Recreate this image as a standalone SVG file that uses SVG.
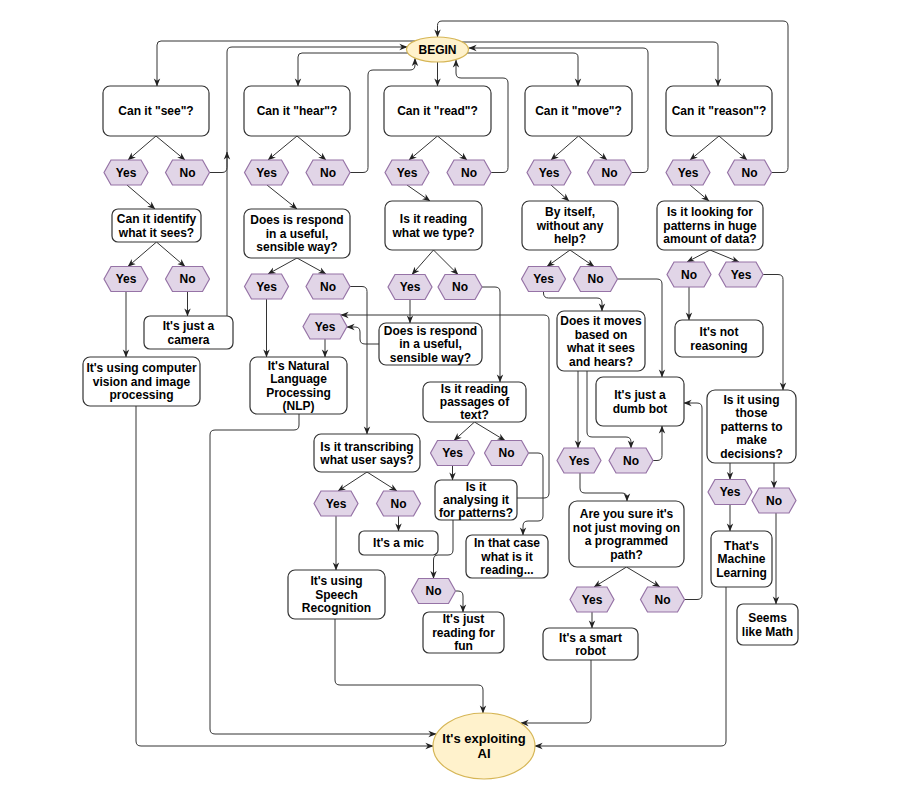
<svg xmlns="http://www.w3.org/2000/svg" width="900" height="800" viewBox="0 0 900 800">
<style>
.box{fill:#fff;stroke:#333;stroke-width:1.2}
.hex{fill:#e1d5e7;stroke:#9673a6;stroke-width:1.2}
.ell{fill:#fff2cc;stroke:#d6b656;stroke-width:1.2}
.t{font-family:"Liberation Sans",Arial,sans-serif;font-weight:bold;font-size:12px;fill:#000;text-anchor:middle}
.ta{font-size:13px}
.c path{fill:none;stroke:#333;stroke-width:1;marker-end:url(#a)}
</style>
<defs>
<marker id="a" viewBox="0 0 10 10" refX="9.5" refY="5" markerWidth="8" markerHeight="8" markerUnits="userSpaceOnUse" orient="auto"><path d="M0,1 L10,5 L0,9 L3,5 z" fill="#222"/></marker>
</defs>
<rect width="900" height="800" fill="#fff"/>

<g class="c" id="connectors">
<path d="M415,41 H161 Q157,41 157,45 V86"/>
<path d="M209.5,172.5 H222 Q227,172.5 227,167.5 V52 Q227,47 232,47 H407"/>
<path d="M227,316 V152"/>
<path d="M408,53 H302 Q298,53 298,57 V86"/>
<path d="M350,172.5 H363 Q368,172.5 368,167.5 V75 Q368,70 373,70 H410 Q415,70 415,65 V58.5"/>
<path d="M437.5,62 V86"/>
<path d="M491,172.5 H503 Q508,172.5 508,167.5 V83 Q508,78 503,78 H461 Q456,78 456,73 V60"/>
<path d="M467,53 H573 Q578,53 578,57 V86"/>
<path d="M631.5,172.5 H643 Q648,172.5 648,167.5 V53 Q648,48 643,48 H469"/>
<path d="M462,42 H713 Q718,42 718,46 V86"/>
<path d="M771.5,172.5 H783 Q788,172.5 788,167.5 V26 Q788,21 783,21 H442 Q437.5,21 437.5,25.5 V37"/>

<path d="M156,136 L128,160"/>
<path d="M156,136 L185,160"/>
<path d="M297,136 L268,160"/>
<path d="M297,136 L326,160"/>
<path d="M437.5,136 L409,160"/>
<path d="M437.5,136 L467,160"/>
<path d="M578.5,136 L551,160"/>
<path d="M578.5,136 L607,160"/>
<path d="M719,136 L690,160"/>
<path d="M719,136 L747,160"/>

<path d="M127,185 L155,209"/>
<path d="M267,185 L297,209"/>
<path d="M407,185 L430,201"/>
<path d="M551,185 L569,201"/>
<path d="M690,185 L709,201"/>

<path d="M156.5,242 L128,266.5"/>
<path d="M156.5,242 L185,266.5"/>
<path d="M297,258 L268,274"/>
<path d="M297,258 L326,274"/>
<path d="M433.5,250 L412,274.5"/>
<path d="M433.5,250 L458,274.5"/>
<path d="M570,250 L547,266.5"/>
<path d="M570,250 L594,266.5"/>
<path d="M710,250 L687,262"/>
<path d="M710,250 L739,262"/>

<path d="M126,291.5 V357"/>
<path d="M187.5,291.5 V316"/>
<path d="M266.5,299 V357"/>
<path d="M325,339 V357"/>
<path d="M350,286.5 H362 Q367,286.5 367,291.5 V434"/>
<path d="M410,299.5 V323"/>
<path d="M482,287 H495 Q500,287 500,292 V382"/>
<path d="M379,344 H365 Q360,344 360,339 V332 Q360,327 355,327 H347"/>
<path d="M517,498 H544 Q549,498 549,493 V320 Q549,315 544,315 H341"/>
<path d="M474.5,422 L454,440.5"/>
<path d="M474.5,422 L505,440.5"/>
<path d="M452.5,465.5 V480"/>
<path d="M528.5,453 H538 Q543,453 543,458 V516 Q543,521 538,521 H528 Q523,521 523,526 V535"/>
<path d="M453,520 V550 Q453,555 448,555 H438 Q433.5,555 433.5,560 V578.5"/>
<path d="M455.5,591 H458 Q463,591 463,596 V612"/>
<path d="M367,472 L338,491"/>
<path d="M367,472 L397,491"/>
<path d="M398.5,516 V531"/>
<path d="M336,516 V570"/>
<path d="M335,619 V680 Q335,685 340,685 H478 Q483,685 483,690 V713"/>
<path d="M543.5,291.5 V293 Q543.5,298 548.5,298 H597 Q602,298 602,303 V311"/>
<path d="M617.5,279 H657 Q662,279 662,284 V377"/>
<path d="M578,371 V448"/>
<path d="M587,371 V432 Q587,437 592,437 H626 Q631,437 631,442 V448"/>
<path d="M653,460.5 H657 Q662,460.5 662,455.5 V426"/>
<path d="M580,473 V488 Q580,493 585,493 H622 Q627,493 627,498 V501"/>
<path d="M626.5,567 L594,587"/>
<path d="M626.5,567 L660,587"/>
<path d="M684.5,599.5 H697 Q702,599.5 702,594.5 V408 Q702,403 697,403 H684"/>
<path d="M592,612 V628"/>
<path d="M591,660 V718 Q591,723 586,723 H521"/>
<path d="M689,287 V320"/>
<path d="M763,274.5 H778 Q783,274.5 783,279.5 V390"/>
<path d="M730,463 V479.5"/>
<path d="M774,463 V488"/>
<path d="M730,504.5 V531"/>
<path d="M776,513 V604"/>
<path d="M726,587 V741 Q726,746 721,746 H535"/>
<path d="M136,406 V741 Q136,746 141,746 H433"/>
<path d="M299,414 V425 Q299,430 294,430 H215 Q210,430 210,435 V729 Q210,734 215,734 H436"/>
</g>

<g id="begin"><ellipse class="ell" cx="437.5" cy="49.5" rx="31" ry="12.5"/><text class="t" x="437.5" y="53.8">BEGIN</text></g>

<g id="see"><rect class="box" x="103" y="86" width="106" height="50" rx="7"/><text class="t" x="156" y="115.3">Can it "see"?</text></g>
<g id="hear"><rect class="box" x="244" y="86" width="106" height="50" rx="7"/><text class="t" x="297" y="115.3">Can it "hear"?</text></g>
<g id="read"><rect class="box" x="384" y="86" width="107" height="50" rx="7"/><text class="t" x="437.5" y="115.3">Can it "read"?</text></g>
<g id="move"><rect class="box" x="525" y="86" width="107" height="50" rx="7"/><text class="t" x="578.5" y="115.3">Can it "move"?</text></g>
<g id="reason"><rect class="box" x="666" y="86" width="106" height="50" rx="7"/><text class="t" x="719" y="115.3">Can it "reason"?</text></g>

<g id="seeYes"><polygon class="hex" points="104,172.5 111,160 141,160 148,172.5 141,185 111,185"/><text class="t" x="126" y="176.8">Yes</text></g>
<g id="seeNo"><polygon class="hex" points="165.5,172.5 172.5,160 202.5,160 209.5,172.5 202.5,185 172.5,185"/><text class="t" x="187.5" y="176.8">No</text></g>
<g id="hearYes"><polygon class="hex" points="244.5,172.5 251.5,160 281.5,160 288.5,172.5 281.5,185 251.5,185"/><text class="t" x="266.5" y="176.8">Yes</text></g>
<g id="hearNo"><polygon class="hex" points="306,172.5 313,160 343,160 350,172.5 343,185 313,185"/><text class="t" x="328" y="176.8">No</text></g>
<g id="readYes"><polygon class="hex" points="385,172.5 392,160 422,160 429,172.5 422,185 392,185"/><text class="t" x="407" y="176.8">Yes</text></g>
<g id="readNo"><polygon class="hex" points="447,172.5 454,160 484,160 491,172.5 484,185 454,185"/><text class="t" x="469" y="176.8">No</text></g>
<g id="moveYes"><polygon class="hex" points="527,172.5 534,160 564,160 571,172.5 564,185 534,185"/><text class="t" x="549" y="176.8">Yes</text></g>
<g id="moveNo"><polygon class="hex" points="587.5,172.5 594.5,160 624.5,160 631.5,172.5 624.5,185 594.5,185"/><text class="t" x="609.5" y="176.8">No</text></g>
<g id="reasonYes"><polygon class="hex" points="666,172.5 673,160 703,160 710,172.5 703,185 673,185"/><text class="t" x="688" y="176.8">Yes</text></g>
<g id="reasonNo"><polygon class="hex" points="727.5,172.5 734.5,160 764.5,160 771.5,172.5 764.5,185 734.5,185"/><text class="t" x="749.5" y="176.8">No</text></g>

<g id="identify"><rect class="box" x="112" y="209" width="89" height="33" rx="6"/><text class="t" x="156.5" y="223"><tspan x="156.5">Can it identify</tspan><tspan x="156.5" dy="13.5">what it sees?</tspan></text></g>
<g id="hearRespond"><rect class="box" x="244" y="209" width="106" height="49" rx="7"/><text class="t" x="297" y="224.3"><tspan x="297">Does is respond</tspan><tspan x="297" dy="13.5">in a useful,</tspan><tspan x="297" dy="13.5">sensible way?</tspan></text></g>
<g id="readType"><rect class="box" x="385" y="201" width="97" height="49" rx="7"/><text class="t" x="433.5" y="223"><tspan x="433.5">Is it reading</tspan><tspan x="433.5" dy="13.5">what we type?</tspan></text></g>
<g id="byItself"><rect class="box" x="522" y="201" width="96" height="49" rx="7"/><text class="t" x="570" y="216.3"><tspan x="570">By itself,</tspan><tspan x="570" dy="13.5">without any</tspan><tspan x="570" dy="13.5">help?</tspan></text></g>
<g id="patterns"><rect class="box" x="657" y="201" width="106" height="49" rx="7"/><text class="t" x="710" y="216.3"><tspan x="710">Is it looking for</tspan><tspan x="710" dy="13.5">patterns in huge</tspan><tspan x="710" dy="13.5">amount of data?</tspan></text></g>

<g id="identYes"><polygon class="hex" points="104,279 111,266.5 141,266.5 148,279 141,291.5 111,291.5"/><text class="t" x="126" y="283.3">Yes</text></g>
<g id="identNo"><polygon class="hex" points="165.5,279 172.5,266.5 202.5,266.5 209.5,279 202.5,291.5 172.5,291.5"/><text class="t" x="187.5" y="283.3">No</text></g>
<g id="camera"><rect class="box" x="144" y="316" width="89" height="33" rx="6"/><text class="t" x="188.5" y="330"><tspan x="188.5">It's just a</tspan><tspan x="188.5" dy="13.5">camera</tspan></text></g>
<g id="cv"><rect class="box" x="83" y="357" width="117" height="49" rx="7"/><text class="t" x="141.5" y="372.3"><tspan x="141.5">It's using computer</tspan><tspan x="141.5" dy="13.5">vision and image</tspan><tspan x="141.5" dy="13.5">processing</tspan></text></g>

<g id="hearYes2"><polygon class="hex" points="244.5,286.5 251.5,274 281.5,274 288.5,286.5 281.5,299 251.5,299"/><text class="t" x="266.5" y="290.8">Yes</text></g>
<g id="hearNo2"><polygon class="hex" points="306,286.5 313,274 343,274 350,286.5 343,299 313,299"/><text class="t" x="328" y="290.8">No</text></g>
<g id="nlpYes"><polygon class="hex" points="303,326.5 310,314 340,314 347,326.5 340,339 310,339"/><text class="t" x="325" y="330.8">Yes</text></g>
<g id="nlp"><rect class="box" x="250" y="357" width="97" height="57" rx="7"/><text class="t" x="298.5" y="369.6"><tspan x="298.5">It's Natural</tspan><tspan x="298.5" dy="13.5">Language</tspan><tspan x="298.5" dy="13.5">Processing</tspan><tspan x="298.5" dy="13.5">(NLP)</tspan></text></g>

<g id="readYes2"><polygon class="hex" points="388,287 395,274.5 425,274.5 432,287 425,299.5 395,299.5"/><text class="t" x="410" y="291.3">Yes</text></g>
<g id="readNo2"><polygon class="hex" points="438,287 445,274.5 475,274.5 482,287 475,299.5 445,299.5"/><text class="t" x="460" y="291.3">No</text></g>
<g id="readRespond"><rect class="box" x="379" y="323" width="103" height="42" rx="7"/><text class="t" x="430.5" y="334.8"><tspan x="430.5">Does is respond</tspan><tspan x="430.5" dy="13.5">in a useful,</tspan><tspan x="430.5" dy="13.5">sensible way?</tspan></text></g>
<g id="passages"><rect class="box" x="423" y="382" width="103" height="40" rx="7"/><text class="t" x="474.5" y="392.8"><tspan x="474.5">Is it reading</tspan><tspan x="474.5" dy="13.3">passages of</tspan><tspan x="474.5" dy="13.3">text?</tspan></text></g>
<g id="passYes"><polygon class="hex" points="430.5,453 437.5,440.5 467.5,440.5 474.5,453 467.5,465.5 437.5,465.5"/><text class="t" x="452.5" y="457.3">Yes</text></g>
<g id="passNo"><polygon class="hex" points="484.5,453 491.5,440.5 521.5,440.5 528.5,453 521.5,465.5 491.5,465.5"/><text class="t" x="506.5" y="457.3">No</text></g>
<g id="analysing"><rect class="box" x="435" y="480" width="82" height="40" rx="6"/><text class="t" x="476" y="491.3"><tspan x="476">Is it</tspan><tspan x="476" dy="13">analysing it</tspan><tspan x="476" dy="13">for patterns?</tspan></text></g>
<g id="thatCase"><rect class="box" x="466" y="535" width="82" height="43" rx="6"/><text class="t" x="507" y="547.3"><tspan x="507">In that case</tspan><tspan x="507" dy="13.5">what is it</tspan><tspan x="507" dy="13.5">reading...</tspan></text></g>
<g id="funNo"><polygon class="hex" points="411.5,591 418.5,578.5 448.5,578.5 455.5,591 448.5,603.5 418.5,603.5"/><text class="t" x="433.5" y="595.3">No</text></g>
<g id="fun"><rect class="box" x="423" y="612" width="81" height="41" rx="6"/><text class="t" x="463.5" y="623.3"><tspan x="463.5">It's just</tspan><tspan x="463.5" dy="13.5">reading for</tspan><tspan x="463.5" dy="13.5">fun</tspan></text></g>

<g id="transcribing"><rect class="box" x="314" y="434" width="106" height="38" rx="7"/><text class="t" x="367" y="450.6"><tspan x="367">Is it transcribing</tspan><tspan x="367" dy="13.5">what user says?</tspan></text></g>
<g id="transYes"><polygon class="hex" points="314,503.5 321,491 351,491 358,503.5 351,516 321,516"/><text class="t" x="336" y="507.8">Yes</text></g>
<g id="transNo"><polygon class="hex" points="376.5,503.5 383.5,491 413.5,491 420.5,503.5 413.5,516 383.5,516"/><text class="t" x="398.5" y="507.8">No</text></g>
<g id="mic"><rect class="box" x="359" y="531" width="79" height="24" rx="5"/><text class="t" x="398.5" y="547.3">It's a mic</text></g>
<g id="speech"><rect class="box" x="288" y="570" width="97" height="49" rx="7"/><text class="t" x="336.5" y="585.3"><tspan x="336.5">It's using</tspan><tspan x="336.5" dy="13.5">Speech</tspan><tspan x="336.5" dy="13.5">Recognition</tspan></text></g>

<g id="byYes"><polygon class="hex" points="521.5,279 528.5,266.5 558.5,266.5 565.5,279 558.5,291.5 528.5,291.5"/><text class="t" x="543.5" y="283.3">Yes</text></g>
<g id="byNo"><polygon class="hex" points="573.5,279 580.5,266.5 610.5,266.5 617.5,279 610.5,291.5 580.5,291.5"/><text class="t" x="595.5" y="283.3">No</text></g>
<g id="moves"><rect class="box" x="557" y="311" width="88" height="60" rx="7"/><text class="t" x="601" y="325"><tspan x="601">Does it moves</tspan><tspan x="601" dy="13.5">based on</tspan><tspan x="601" dy="13.5">what it sees</tspan><tspan x="601" dy="13.5">and hears?</tspan></text></g>
<g id="dumb"><rect class="box" x="596" y="377" width="88" height="49" rx="7"/><text class="t" x="640" y="399"><tspan x="640">It's just a</tspan><tspan x="640" dy="13.5">dumb bot</tspan></text></g>
<g id="movesYes"><polygon class="hex" points="557,460.5 564,448 594,448 601,460.5 594,473 564,473"/><text class="t" x="579" y="464.8">Yes</text></g>
<g id="movesNo"><polygon class="hex" points="609,460.5 616,448 646,448 653,460.5 646,473 616,473"/><text class="t" x="631" y="464.8">No</text></g>
<g id="sure"><rect class="box" x="569" y="501" width="115" height="66" rx="8"/><text class="t" x="626.5" y="518"><tspan x="626.5">Are you sure it's</tspan><tspan x="626.5" dy="13.5">not just moving on</tspan><tspan x="626.5" dy="13.5">a programmed</tspan><tspan x="626.5" dy="13.5">path?</tspan></text></g>
<g id="sureYes"><polygon class="hex" points="570,599.5 577,587 607,587 614,599.5 607,612 577,612"/><text class="t" x="592" y="603.8">Yes</text></g>
<g id="sureNo"><polygon class="hex" points="640.5,599.5 647.5,587 677.5,587 684.5,599.5 677.5,612 647.5,612"/><text class="t" x="662.5" y="603.8">No</text></g>
<g id="smart"><rect class="box" x="543" y="628" width="95" height="32" rx="6"/><text class="t" x="590.5" y="641.5"><tspan x="590.5">It's a smart</tspan><tspan x="590.5" dy="13.5">robot</tspan></text></g>

<g id="patNo"><polygon class="hex" points="667,274.5 674,262 704,262 711,274.5 704,287 674,287"/><text class="t" x="689" y="278.8">No</text></g>
<g id="patYes"><polygon class="hex" points="719,274.5 726,262 756,262 763,274.5 756,287 726,287"/><text class="t" x="741" y="278.8">Yes</text></g>
<g id="notReason"><rect class="box" x="675" y="320" width="88" height="37" rx="7"/><text class="t" x="719" y="336"><tspan x="719">It's not</tspan><tspan x="719" dy="13.5">reasoning</tspan></text></g>
<g id="using"><rect class="box" x="707" y="390" width="89" height="73" rx="8"/><text class="t" x="751.5" y="403.8"><tspan x="751.5">Is it using</tspan><tspan x="751.5" dy="13.5">those</tspan><tspan x="751.5" dy="13.5">patterns to</tspan><tspan x="751.5" dy="13.5">make</tspan><tspan x="751.5" dy="13.5">decisions?</tspan></text></g>
<g id="useYes"><polygon class="hex" points="708,492 715,479.5 745,479.5 752,492 745,504.5 715,504.5"/><text class="t" x="730" y="496.3">Yes</text></g>
<g id="useNo"><polygon class="hex" points="752,500.5 759,488 789,488 796,500.5 789,513 759,513"/><text class="t" x="774" y="504.8">No</text></g>
<g id="ml"><rect class="box" x="711" y="531" width="61" height="56" rx="7"/><text class="t" x="741.5" y="549.8"><tspan x="741.5">That's</tspan><tspan x="741.5" dy="13.5">Machine</tspan><tspan x="741.5" dy="13.5">Learning</tspan></text></g>
<g id="math"><rect class="box" x="737" y="604" width="61" height="41" rx="6"/><text class="t" x="767.5" y="622"><tspan x="767.5">Seems</tspan><tspan x="767.5" dy="13.5">like Math</tspan></text></g>

<g id="ai"><ellipse class="ell" cx="484" cy="746" rx="51" ry="33"/><text class="t ta" x="484" y="742.9"><tspan x="484">It's exploiting</tspan><tspan x="484" dy="15.5">AI</tspan></text></g>
</svg>
